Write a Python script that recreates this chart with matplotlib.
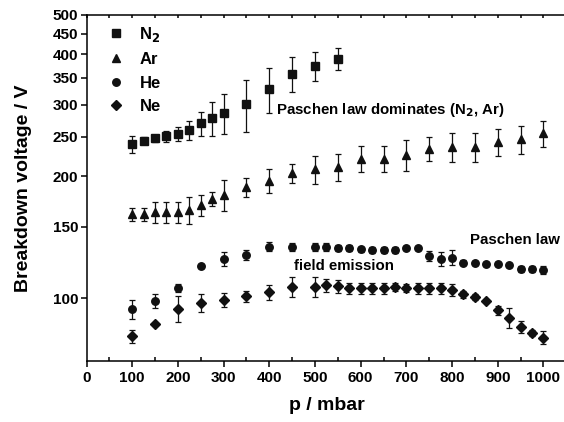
import matplotlib
matplotlib.use('Agg')
import matplotlib.pyplot as plt
from matplotlib.ticker import FixedLocator, FixedFormatter, MultipleLocator, NullLocator

plt.rcParams['font.family'] = ['Liberation Sans', 'DejaVu Sans']
plt.rcParams['font.weight'] = 'bold'
plt.rcParams['mathtext.default'] = 'bf'

# breakdown voltage data
p_n2 = [100, 125, 150, 175, 200, 225, 250, 275, 300, 350, 400, 450, 500, 550]
v_n2 = [240, 245, 248, 251, 254, 260, 270, 278, 287, 301, 328, 358, 374, 390]
e_n2 = [12, 5, 5, 8, 10, 14, 18, 27, 33, 44, 41, 36, 31, 24]

p_ar = [100, 125, 150, 175, 200, 225, 250, 275, 300, 350, 400, 450, 500, 550,
        600, 650, 700, 750, 800, 850, 900, 950, 1000]
v_ar = [161, 161, 163, 163, 163, 165, 170, 176, 180, 188, 195, 204, 208, 211,
        221, 221, 226, 234, 236, 236, 243, 247, 255]
e_ar = [6, 6, 9.5, 9.5, 9.5, 12.5, 10, 7, 16, 10, 13, 11, 17, 16,
        16, 16, 20, 16, 19, 19, 18, 19.5, 19]

p_he = [100, 150, 200, 250, 300, 350, 400, 450, 500, 525, 550, 575, 600, 625,
        650, 675, 700, 725, 750, 775, 800, 825, 850, 875, 900, 925, 950, 975, 1000]
v_he = [94, 98.5, 106, 120, 125, 128, 134, 134, 134, 134, 133, 133, 132, 131.5,
        131.5, 131.5, 133, 133, 127, 125, 126, 122.5, 122, 121.5, 121.5, 121, 118, 118, 117.5]
e_he = [5, 4, 2.5, 1.5, 5, 3.5, 3.5, 3, 3, 3, 2, 2, 2, 2,
        2, 2, 1.5, 1.5, 3.5, 5, 5.5, 1.5, 1.5, 1.5, 1.5, 1.5, 2, 2, 2.5]

p_ne = p_he
v_ne = [80.7, 86.6, 94.3, 97.4, 98.9, 101, 103.6, 106.6, 106.6, 107.7, 107.2, 105.7, 105.7, 105.7,
        105.7, 106.6, 106.1, 105.7, 105.7, 105.7, 104.7, 102.3, 100.7, 98.5, 93.4, 89.6, 84.9, 82.1, 80]
e_ne = [3, 0.5, 7, 5, 4, 3, 4.5, 6, 6, 4, 4, 3.5, 3.5, 3.5,
        3.5, 2.5, 2.5, 3.5, 3.5, 3.5, 3.5, 2, 1.5, 0.5, 2.5, 5, 3, 1.5, 3]

yticks = [100, 150, 200, 250, 300, 350, 400, 450, 500]

series = [
    (p_n2, v_n2, e_n2, 's', 5.4, 'N$_2$'),
    (p_ar, v_ar, e_ar, '^', 6.4, 'Ar'),
    (p_he, v_he, e_he, 'o', 5.4, 'He'),
    (p_ne, v_ne, e_ne, 'D', 5.0, 'Ne'),
]

fig = plt.figure(figsize=(5.64, 4.22), dpi=100)
ax = fig.add_axes([0.1534, 0.1445, 0.8507, 0.82])

for p, v, e, m, ms, lab in series:
    ax.errorbar(p, v, yerr=e, fmt='none', ecolor='#111111', elinewidth=0.9,
                capsize=2.5, capthick=0.9)
    ax.plot(p, v, m, color='#111111', markersize=ms, label=lab)

ax.set_yscale('log')
ax.set_ylim(70, 500)
ax.set_xlim(0, 1050)
ax.yaxis.set_major_locator(FixedLocator(yticks))
ax.yaxis.set_major_formatter(FixedFormatter([str(t) for t in yticks]))
ax.yaxis.set_minor_locator(NullLocator())
ax.xaxis.set_major_locator(MultipleLocator(100))
ax.xaxis.set_minor_locator(MultipleLocator(50))

ax.spines['right'].set_visible(False)
for s in ['left', 'bottom', 'top']:
    ax.spines[s].set_linewidth(1.1)
ax.tick_params(axis='x', which='major', direction='out', length=4, width=1.1,
               labelsize=11, top=False)
ax.tick_params(axis='x', which='minor', direction='in', length=3, width=1.1, top=False)
ax.tick_params(axis='y', which='major', direction='out', length=4, width=1.1,
               labelsize=11, right=False, pad=2)

# top spine ticks every 50
axt = ax.secondary_xaxis('top')
axt.xaxis.set_major_locator(MultipleLocator(50))
axt.tick_params(direction='in', length=2, width=1.1, labeltop=False)
axt.spines['top'].set_visible(False)

ax.set_xlabel('p / mbar', fontsize=14, fontweight='bold', labelpad=8)
ax.set_ylabel('Breakdown voltage / V', fontsize=14, fontweight='bold', labelpad=15)

ax.text(415, 291, 'Paschen law dominates (N$_2$, Ar)', fontsize=10.8, va='center', ha='left')
ax.text(1036, 139, 'Paschen law', fontsize=10.8, va='center', ha='right')
ax.text(454, 120, 'field emission', fontsize=10.8, va='center', ha='left')

ax.legend(loc='upper left', bbox_to_anchor=(0.02, 1.0), frameon=False,
          prop={'weight': 'bold', 'size': 12}, handlelength=1.2,
          handletextpad=0.8, labelspacing=0.5, borderaxespad=0.2)

fig.savefig('out.png', dpi=100)
